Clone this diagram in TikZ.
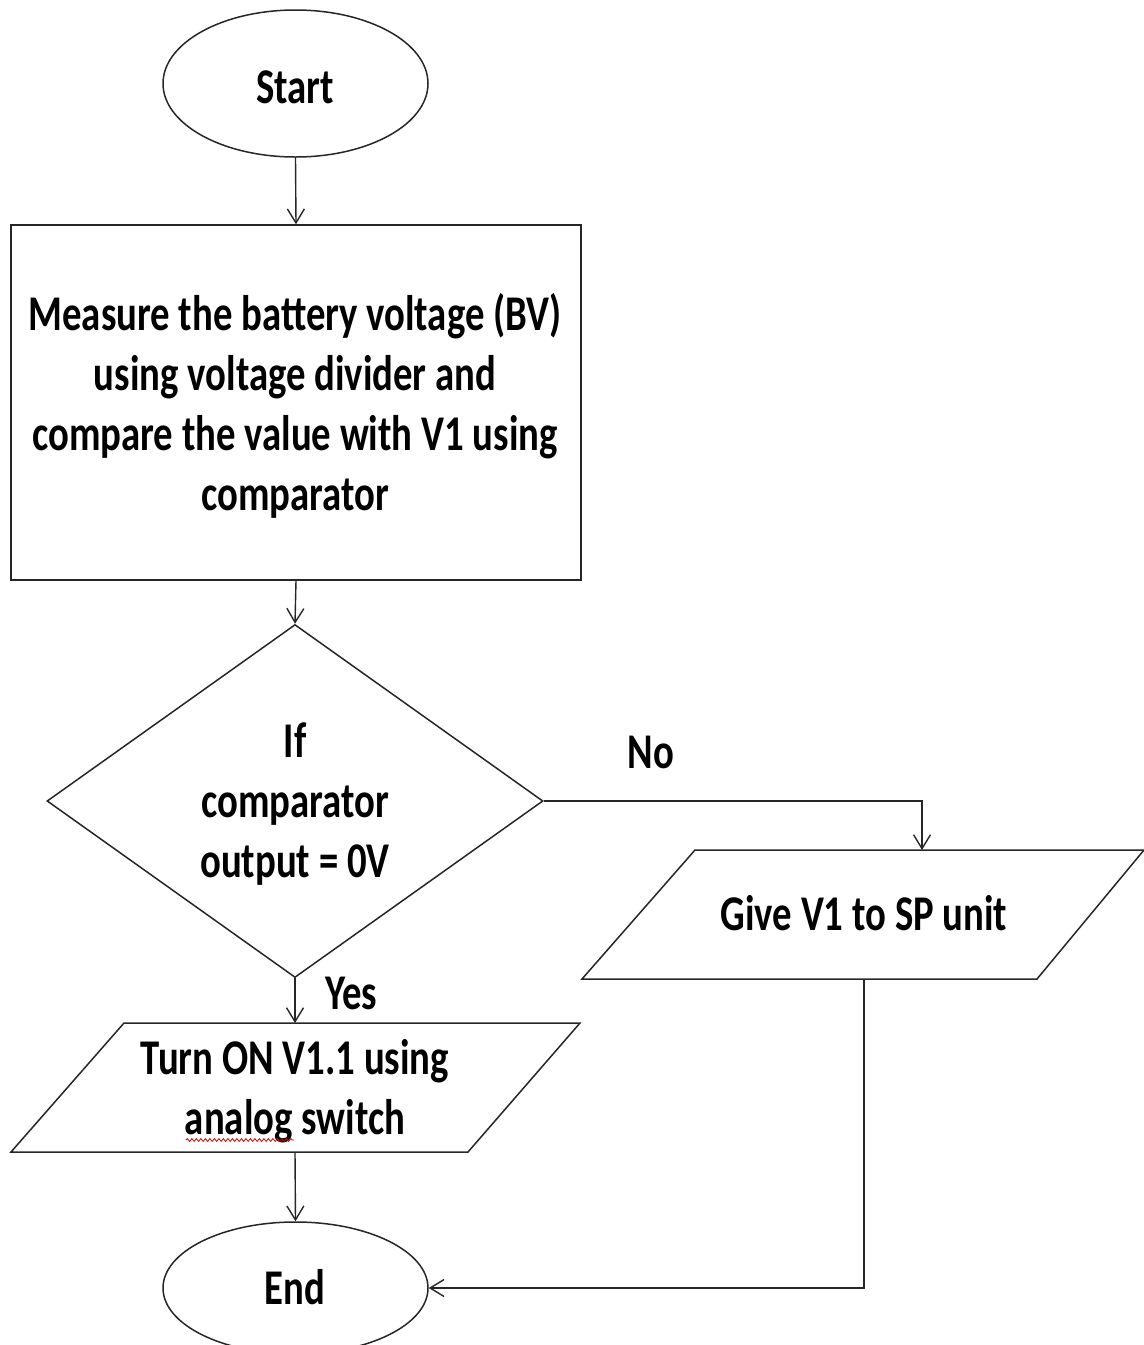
\documentclass[tikz,border=0pt]{standalone}
\usepackage{fontspec}
\setmainfont{Carlito}
\usetikzlibrary{shapes.geometric,arrows.meta,decorations.pathmorphing}
\newcommand{\sqz}[1]{\scalebox{0.775}[1]{\begin{tabular}{@{}c@{}}#1\end{tabular}}}
\tikzset{
  txt/.style={font=\fontsize{50}{60}\selectfont\bfseries, inner sep=0pt, anchor=center},
  shp/.style={draw=black!85, line width=1.5pt},
  term/.style={shp, ellipse, inner sep=0pt, minimum width=265pt},
  conn/.style={draw=black!85, line width=1.4pt, -{Straight Barb[length=14pt,width=17pt,line width=1.4pt]}},
  plain/.style={draw=black!85, line width=1.5pt}
}
\begin{document}
\begin{tikzpicture}[x=1pt,y=-1pt]
\useasboundingbox (0,0) rectangle (1144,1345);
% shapes
\node[term, minimum height=147pt] (start) at (295.5,83.5) {};
\node[shp, rectangle, minimum width=570pt, minimum height=355pt, inner sep=0pt] (meas) at (296,402.5) {};
\node[shp, diamond, minimum width=496pt, minimum height=353pt, inner sep=0pt] (dec) at (295,801) {};
\coordinate (gA) at (695,850); \coordinate (gB) at (1144,850);
\coordinate (gC) at (1037,979); \coordinate (gD) at (582,979);
\draw[plain] (gA) -- (gB) -- (gC) -- (gD) -- cycle;
\coordinate (tA) at (124,1023); \coordinate (tB) at (580,1023);
\coordinate (tC) at (468,1152); \coordinate (tD) at (11,1152);
\draw[plain] (tA) -- (tB) -- (tC) -- (tD) -- cycle;
\node[term, minimum height=132pt] (end) at (295.5,1288) {};
% texts
\node[txt] (tStart) at (295,91) {\sqz{Start}};
\node[txt] (tMeas) at (295,408) {\sqz{Measure the battery voltage (BV)\\using voltage divider and\\compare the value with V1 using\\comparator}};
\node[txt] (tDec) at (295,805) {\sqz{If\\comparator\\output = 0V}};
\node[txt] (tGive) at (864,918) {\sqz{Give V1 to SP unit}};
\node[txt] (tTurn) at (295,1092) {\sqz{Turn ON V1.1 using\\analog switch}};
\node[txt] (tEnd) at (295,1292) {\sqz{End}};
\node[txt] (lNo) at (651,756) {\sqz{No}};
\node[txt] (lYes) at (351,997) {\sqz{Yes}};
% spell-check squiggle
\coordinate (sq1) at (186,1140); \coordinate (sq2) at (294,1140);
\draw[red!85!black, line width=0.8pt, decorate, decoration={snake, amplitude=1.4pt, segment length=4.5pt}] (sq1) -- (sq2);
% connectors
\coordinate (giveTop) at (922,850);
\coordinate (giveBot) at (864,979);
\coordinate (turnTop) at (295,1023);
\coordinate (turnBot) at (295,1152);
\draw[conn] (start.south) -- (meas.north);
\draw[conn] (meas.south) -- (dec.north);
\draw[conn] (dec.east) -| (giveTop);
\draw[conn] (dec.south) -- (turnTop);
\draw[conn] (turnBot) -- (end.north);
\draw[conn] (giveBot) |- (end.east);
\end{tikzpicture}
\end{document}
